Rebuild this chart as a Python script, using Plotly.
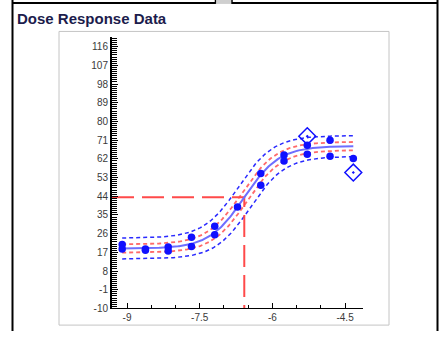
import numpy as np
import plotly.graph_objects as go

# ---- data -------------------------------------------------------------
log_dose = [-9.10, -8.62, -8.15, -7.67, -7.19, -6.72, -6.24, -5.76, -5.28, -4.81, -4.33]
resp_rep1 = [20.8, 18.6, 19.6, 24.2, 29.5, 38.8, 55.0, 63.8, 68.5, 70.9, 62.2]
resp_rep2 = [18.6, 18.0, 17.6, 19.8, 25.5, None, 49.3, 61.0, 64.2, 63.3, None]

outlier_dose = [-5.28, -4.33]
outlier_resp = [72.9, 55.4]

# four-parameter logistic fit
fit_bottom = 18.8
fit_top = 68.2
fit_log_ec50 = -6.58
fit_hill = 1.2

# band half-widths (response units) and EC50 shift (log units)
conf_band = (2.0, 0.05)
pred_band = (5.0, 0.12)

y_tickvals = [-10, -1, 8, 17, 26, 35, 44, 53, 62, 71, 80, 89, 98, 107, 116]
x_tickvals = [-9, -7.5, -6, -4.5]
x_ticktext = ["-9", "-7.5", "-6", "-4.5"]

# ---- figure geometry --------------------------------------------------
W, H = 439, 337
def fx(p):
    return p / W
def fy(p):
    return 1 - p / H

def logistic(x, bottom, top, logec50, hill):
    return bottom + (top - bottom) / (1 + 10 ** ((logec50 - x) * hill))

xs = np.linspace(min(log_dose), max(log_dose), 200)
fit_y = logistic(xs, fit_bottom, fit_top, fit_log_ec50, fit_hill)

def band(dy, dx, sign):
    return logistic(xs, fit_bottom + sign * dy, fit_top + sign * dy,
                    fit_log_ec50 - sign * dx, fit_hill)

fig = go.Figure()

blue = "#1010ff"
red = "#ff4a4a"

# prediction band (outer, blue dashed)
for s in (1, -1):
    fig.add_trace(go.Scatter(x=xs, y=band(*pred_band, s), mode="lines",
                             line=dict(color="#2a2aff", width=1.5, dash="4px,3px"),
                             hoverinfo="skip", showlegend=False))
# confidence band (inner, red dashed)
for s in (1, -1):
    fig.add_trace(go.Scatter(x=xs, y=band(*conf_band, s), mode="lines",
                             line=dict(color="#ff6a6a", width=1.8, dash="4px,3px"),
                             hoverinfo="skip", showlegend=False))

# EC50 guide lines
x_lo = -9.31
y_lo = -10
mid = (fit_bottom + fit_top) / 2
fig.add_trace(go.Scatter(x=[x_lo, fit_log_ec50, fit_log_ec50], y=[mid, mid, y_lo],
                         mode="lines", line=dict(color=red, width=2, dash="22px,8px"),
                         hoverinfo="skip", showlegend=False))

# fitted curve
fig.add_trace(go.Scatter(x=xs, y=fit_y, mode="lines",
                         line=dict(color="#6e6eff", width=2),
                         showlegend=False))

# replicate responses
for rep in (resp_rep1, resp_rep2):
    fig.add_trace(go.Scatter(x=log_dose, y=rep, mode="markers",
                             marker=dict(color=blue, size=7.5, symbol="circle"),
                             showlegend=False))

# excluded points
fig.add_trace(go.Scatter(x=outlier_dose, y=outlier_resp, mode="markers",
                         marker=dict(color=blue, size=13, symbol="diamond-open-dot",
                                     line=dict(width=1.5, color=blue)),
                         showlegend=False))

tick_font = dict(family="Arial, Liberation Sans, sans-serif", size=10, color="#3a3a3a")

fig.update_layout(
    width=W, height=H,
    margin=dict(l=0, r=0, t=0, b=0),
    paper_bgcolor="white", plot_bgcolor="white",
    xaxis=dict(domain=[fx(112), fx(363)], range=[x_lo, -4.13],
               tickmode="array", tickvals=x_tickvals, ticktext=x_ticktext,
               ticks="inside", ticklen=5, tickcolor="black", tickwidth=1,
               minor=dict(tickmode="linear", tick0=-9, dtick=0.5, ticks="inside",
                          ticklen=3, tickcolor="black", tickwidth=1),
               showline=True, linecolor="black", linewidth=1,
               showgrid=False, zeroline=False, tickfont=tick_font),
    yaxis=dict(domain=[fy(314), fy(38)], range=[y_lo, 120.5],
               tickmode="array", tickvals=y_tickvals,
               ticktext=[str(v) for v in y_tickvals],
               ticks="inside", ticklen=6, tickcolor="black", tickwidth=1.2,
               minor=dict(tickmode="linear", tick0=-10, dtick=1, ticks="inside",
                          ticklen=5, tickcolor="black", tickwidth=1.1),
               showline=True, linecolor="black", linewidth=2,
               showgrid=False, zeroline=False, tickfont=tick_font),
    font=dict(family="Arial, Liberation Sans, sans-serif"),
)

shapes = [
    # chart frame
    dict(type="rect", xref="paper", yref="paper", x0=fx(59), x1=fx(389),
         y0=fy(331), y1=fy(32), line=dict(color="#c4c4c4", width=1)),
    # panel border
    dict(type="line", xref="paper", yref="paper", x0=fx(12.5), x1=fx(12.5),
         y0=fy(0), y1=fy(337), line=dict(color="black", width=2)),
    dict(type="line", xref="paper", yref="paper", x0=fx(437.5), x1=fx(437.5),
         y0=fy(0), y1=fy(337), line=dict(color="black", width=2)),
    dict(type="line", xref="paper", yref="paper", x0=fx(12), x1=fx(215),
         y0=fy(3), y1=fy(3), line=dict(color="black", width=2)),
    dict(type="line", xref="paper", yref="paper", x0=fx(232), x1=fx(438),
         y0=fy(3), y1=fy(3), line=dict(color="black", width=2)),
    dict(type="rect", xref="paper", yref="paper", x0=fx(217), x1=fx(231),
         y0=fy(4), y1=fy(0), fillcolor="#cfcfcf", line=dict(width=0)),
    dict(type="line", xref="paper", yref="paper", x0=fx(215.5), x1=fx(215.5),
         y0=fy(0), y1=fy(4), line=dict(color="black", width=1.5)),
    dict(type="line", xref="paper", yref="paper", x0=fx(232), x1=fx(232),
         y0=fy(0), y1=fy(4), line=dict(color="black", width=1.5)),
]
fig.update_layout(shapes=shapes)

fig.add_annotation(xref="paper", yref="paper", x=fx(14.5), y=fy(19),
                   xanchor="left", yanchor="middle", showarrow=False,
                   text="<b>Dose Response Data</b>",
                   font=dict(family="Arial, Liberation Sans, sans-serif",
                             size=15, color="#1c1c4c"))

fig.write_html("out.html")
